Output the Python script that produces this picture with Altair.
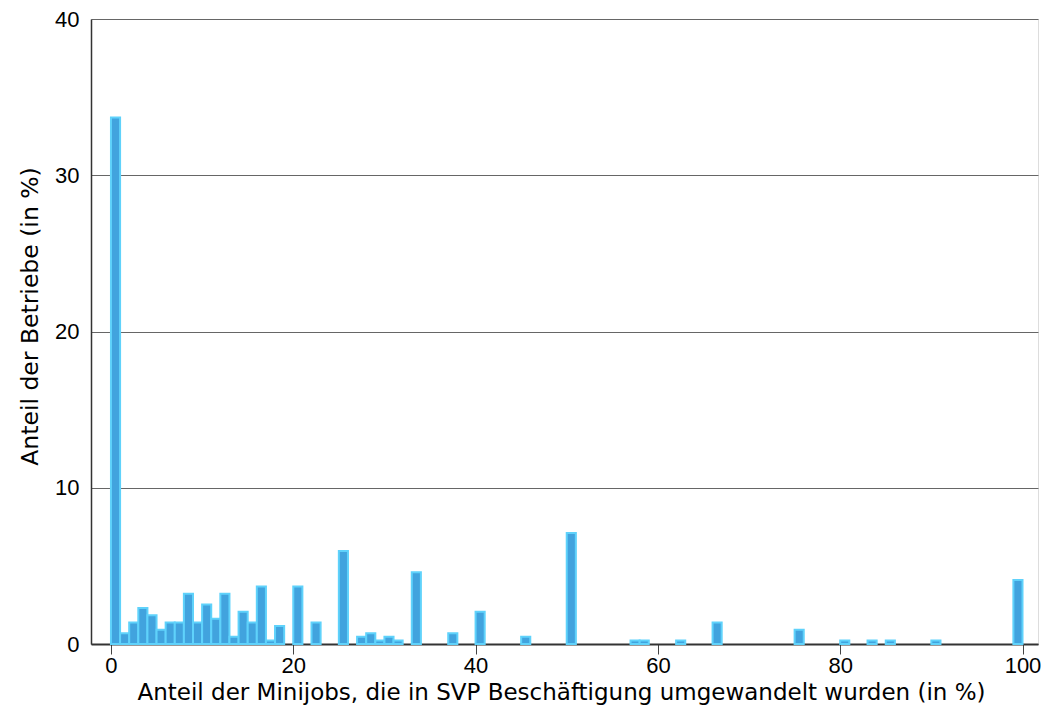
import altair as alt
import pandas as pd

# Bin starts (width 1) and share of firms (%)
bin_start = [0, 1, 2, 3, 4, 5, 6, 7, 8, 9, 10, 11, 12, 13, 14, 15, 16, 17, 18,
             20, 22, 25, 27, 28, 29, 30, 31, 33, 37, 40, 45, 50, 57, 58, 62,
             66, 75, 80, 83, 85, 90, 99]
share = [33.7, 0.69, 1.38, 2.3, 1.84, 0.92, 1.38, 1.38, 3.22, 1.38, 2.53, 1.61,
         3.22, 0.46, 2.07, 1.38, 3.68, 0.23, 1.15,
         3.68, 1.38, 5.95, 0.46, 0.69, 0.23, 0.46, 0.23, 4.6, 0.69, 2.07, 0.46,
         7.1, 0.23, 0.23, 0.23, 1.38, 0.92, 0.23, 0.23, 0.23, 0.23, 4.1]

x_ticks = [0, 20, 40, 60, 80, 100]
y_ticks = [0, 10, 20, 30, 40]

df = pd.DataFrame({"start": bin_start, "share": share})
df["end"] = df["start"] + 1

LFONT = "Liberation Sans"
TFONT = "DejaVu Sans"

chart = alt.Chart(df).mark_rect(
    color="#41a3de", stroke="#5fd2fb", strokeWidth=2
).encode(
    x=alt.X("start:Q",
            scale=alt.Scale(domain=[-2.19, 101.7], nice=False, zero=False),
            axis=alt.Axis(values=x_ticks, title="Anteil der Minijobs, die in SVP Beschäftigung umgewandelt wurden (in %)",
                          grid=False, tickSize=10, tickColor="#444", domainColor="#333",
                          domainWidth=2, labelPadding=18, labelBaseline="alphabetic",
                          labelFontSize=22, titleFontSize=23, labelFont=LFONT, titleFont=TFONT,
                          labelColor="#000", titleColor="#000", titleFontWeight="normal",
                          titleX=470, titleY=55, titleBaseline="alphabetic", titleAlign="center")),
    x2="end:Q",
    y=alt.Y("share:Q",
            scale=alt.Scale(domain=[0, 40], nice=False),
            axis=alt.Axis(values=y_ticks, title="Anteil der Betriebe (in %)",
                          grid=True, gridColor="#666", gridWidth=1,
                          tickSize=0, domainColor="#333", domainWidth=1.5,
                          labelPadding=12, labelFontSize=22, titleFontSize=23.5,
                          labelFont=LFONT, titleFont=TFONT, labelColor="#000", titleColor="#000",
                          titleFontWeight="normal", titleX=-54, titleY=297,
                          titleAngle=270, titleBaseline="alphabetic", titleAlign="center")),
    y2=alt.datum(0),
).properties(
    width=947, height=625,
    autosize=alt.AutoSizeParams(type="none"),
    padding={"left": 83, "top": 11, "right": 8, "bottom": 62},
).configure_view(stroke=None).configure(background="white")

chart.save("out.html", embed_options={"renderer": "svg", "actions": False})
